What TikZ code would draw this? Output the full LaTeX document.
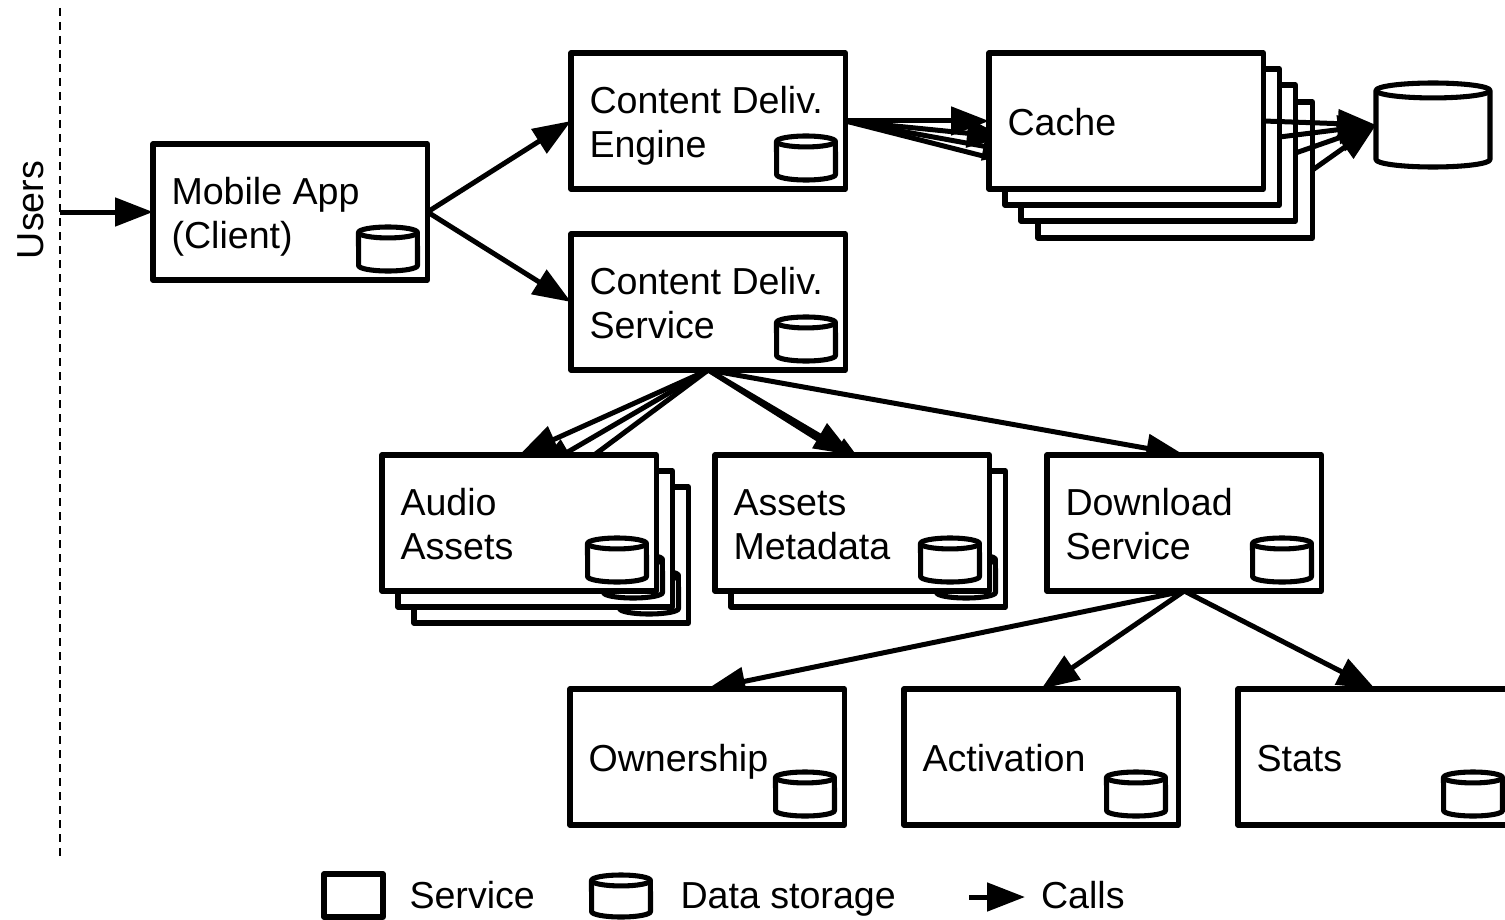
\documentclass[tikz,border=0pt]{standalone}
\usepackage{fontspec}
\setmainfont{Liberation Sans}
\usetikzlibrary{arrows.meta,backgrounds}
\def\px{0.75pt}
\def\mystrutA{\rule[-5.5pt]{0pt}{32.9pt}}
\tikzset{
  x=0.75pt,y=-0.75pt,
  svc/.style={draw=black,fill=white,line width=3.8pt,line join=round,rectangle,outer sep=0pt,inner sep=0pt,
    anchor=north west,minimum width=274.5*\px,minimum height=136*\px},
  lbl/.style={svc,align=flush left,text width=237.5*\px,font=\fontsize{28.2}{33}\selectfont,text=black,
    execute at begin node={\lineskiplimit=-20pt\mystrutA},execute at end node={\mystrutA}},
  db/.style={rectangle,draw=none,outer sep=0pt,inner sep=0pt,anchor=south east,minimum width=59*\px,minimum height=44*\px},
  bigdb/.style={db,anchor=center,minimum width=114*\px,minimum height=84*\px},
  dbline/.style={draw=black,fill=white,line width=3.8pt,line join=round},
  call/.style={draw=black,line width=3.75pt,-{Triangle[length=28.5pt,width=21pt]}},
  txt/.style={font=\fontsize{28.2}{33}\selectfont,text=black,inner sep=0pt,outer sep=0pt,anchor=base west},
}
% outline of a data store, around a named node: name, x radius, y radius
\newcommand\dbdraw[3]{%
  \draw[dbline] ([yshift=-#3]#1.north west) arc[start angle=180,end angle=0,x radius=#2,y radius=#3]
    -- ([yshift=#3]#1.south east) arc[start angle=0,end angle=-180,x radius=#2,y radius=#3] -- cycle;
  \draw[dbline,fill=none] ([yshift=-#3]#1.north west) arc[start angle=180,end angle=360,x radius=#2,y radius=#3];
}
\newcommand\dbin[2]{%
  \node[db] (#1) at ([shift={(-10,-9)}]#2.south east) {};
  \dbdraw{#1}{22.1pt}{4.1pt}
}
\begin{document}
\begin{tikzpicture}
\clip (0,0) rectangle (1505,920);
\begin{scope}[on background layer]
  \fill[white] (0,0) rectangle (1505,920);
\end{scope}

% users boundary
\coordinate (usertop) at (60,8);
\coordinate (userbot) at (60,860);
\coordinate (userin) at (60,212);
\draw[line width=1.6pt,dash pattern=on 6pt off 4.5pt] (usertop) -- (userbot);
\node[txt,anchor=base,rotate=90] (users) at (43,210) {Users};

% main boxes
\node[lbl] (mobile) at (153,144) {Mobile App\\(Client)};
\dbin{dbmobile}{mobile}

\node[lbl] (engine) at (571,53) {Content Deliv.\\Engine};
\dbin{dbengine}{engine}

\node[lbl] (service) at (571,234) {Content Deliv.\\Service};
\dbin{dbservice}{service}

% cache stack
\node[svc] (cacheD) at (1038,102) {};
\node[svc] (cacheC) at (1021,85) {};
\node[svc] (cacheB) at (1005,69) {};
\node[lbl] (cacheA) at (989,53) {Cache};

\node[bigdb] (store) at (1433,125) {};
\dbdraw{store}{42.75pt}{5.6pt}

% audio stack
\node[svc] (audioC) at (414,487) {};
\dbin{dbaudioC}{audioC}
\node[svc] (audioB) at (398,471) {};
\dbin{dbaudioB}{audioB}
\node[lbl] (audioA) at (382,455) {Audio\\Assets};
\dbin{dbaudioA}{audioA}

% metadata stack
\node[svc] (metaB) at (731,471) {};
\dbin{dbmetaB}{metaB}
\node[lbl] (metaA) at (715,455) {Assets\\Metadata};
\dbin{dbmetaA}{metaA}

\node[lbl] (download) at (1047,455) {Download\\Service};
\dbin{dbdownload}{download}

\node[lbl] (owner) at (570,689) {Ownership};
\dbin{dbowner}{owner}
\node[lbl] (activation) at (904,689) {Activation};
\node[db] (dbactivation) at ([shift={(-13,-9)}]activation.south east) {};
\dbdraw{dbactivation}{22.1pt}{4.1pt}
\node[lbl] (stats) at (1238,689) {Stats};
\dbin{dbstats}{stats}

% connectors hidden by the front boxes
\begin{scope}[on background layer]
  \draw[call] (userin) -- (mobile.west);
  \draw[call] (mobile.east) -- (engine.west);
  \draw[call] (mobile.east) -- (service.west);
  \draw[call] (engine.east) -- (cacheA.west);
  \draw[call] (engine.east) -- (cacheB.west);
  \draw[call] (engine.east) -- (cacheC.west);
  \draw[call] (engine.east) -- (cacheD.west);
  \draw[call] (service.south) -- (audioA.north);
  \draw[call] (service.south) -- (audioB.north);
  \draw[call] (service.south) -- (audioC.north);
  \draw[call] (service.south) -- (metaA.north);
  \draw[call] (service.south) -- (metaB.north);
  \draw[call] (service.south) -- (download.north);
  \draw[call] (download.south) -- (owner.north);
  \draw[call] (download.south) -- (activation.north);
  \draw[call] (download.south) -- (stats.north);
\end{scope}

% cache to storage, over the back sheets
\draw[call] (cacheA.east) -- (store.west);
\draw[call] (cacheB.east) -- (store.west);
\draw[call] (cacheC.east) -- (store.west);
\draw[call] (cacheD.east) -- (store.west);

% legend
\node[svc,minimum width=59*\px,minimum height=43*\px] (legsvc) at (324,874) {};
\node[txt] (legsvct) at (409.5,908) {Service};
\node[db,anchor=center,minimum height=42*\px] (legdb) at (621,896) {};
\dbdraw{legdb}{22.1pt}{4.1pt}
\node[txt] (legdbt) at (680.5,908) {Data storage};
\coordinate (legfrom) at (969,897);
\coordinate (legto) at (1025,897);
\draw[call] (legfrom) -- (legto);
\node[txt] (legcall) at (1041,908) {Calls};
\end{tikzpicture}
\end{document}
